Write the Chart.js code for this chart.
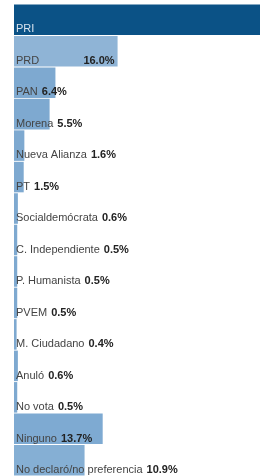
<!DOCTYPE html>
<html><head><meta charset="utf-8">
<script src="https://cdn.jsdelivr.net/npm/chart.js@4"></script>
<style>html,body{margin:0;padding:0;background:#fff;}#wrap{width:260px;height:476px;position:relative;}</style>
</head><body><div id="wrap"><canvas id="c"></canvas></div>
<script>
const categories = ["PRI","PRD","PAN","Morena","Nueva Alianza","PT","Socialdemócrata","C. Independiente","P. Humanista","PVEM","M. Ciudadano","Anuló","No vota","Ninguno","No declaró/no preferencia"];
const values = [40.8,16.0,6.4,5.5,1.6,1.5,0.6,0.5,0.5,0.5,0.4,0.6,0.5,13.7,10.9];
const barColors = ["#0b5286","#8fb4d6","#7ea9d0","#7ea9d0","#7ea9d0","#7ea9d0","#7ea9d0","#7ea9d0","#7ea9d0","#7ea9d0","#7ea9d0","#7ea9d0","#7ea9d0","#7eaad2","#85afd4"];

const FONT = '"Liberation Sans", Arial, sans-serif';
const FS = '11px ';
const labelPlugin = {
  id:'rowLabels',
  afterDatasetsDraw(chart){
    const ctx = chart.ctx;
    const meta = chart.getDatasetMeta(0);
    const area = chart.chartArea;
    ctx.save();
    ctx.textBaseline = 'alphabetic';
    meta.data.forEach((bar,i)=>{
      const name = categories[i];
      const val = values[i].toFixed(1) + '%';
      const bottom = bar.y + bar.height/2;
      const y = bottom - 2.5;
      const x0 = area.left + 2;
      ctx.font = FS + FONT;
      const nw = ctx.measureText(name).width;
      ctx.font = 'bold ' + FS + FONT;
      const vw = ctx.measureText(val).width;
      const barW = bar.x - area.left;
      ctx.font = FS + FONT;
      ctx.fillStyle = i === 0 ? '#d8e3ee' : '#444';
      ctx.textAlign = 'left';
      ctx.fillText(name, x0, y);
      if (bar.x > area.right) return;
      ctx.font = 'bold ' + FS + FONT;
      ctx.fillStyle = '#222';
      if (nw + vw + 30 < barW) {
        ctx.textAlign = 'right';
        ctx.fillText(val, bar.x - 3, y);
      } else {
        ctx.textAlign = 'left';
        ctx.fillText(val, x0 + nw + 4, y);
      }
    });
    ctx.restore();
  }
};

new Chart(document.getElementById('c'), {
  type:'bar',
  data:{labels:categories, datasets:[{data:values, backgroundColor:barColors, borderWidth:0, barPercentage:0.97, categoryPercentage:1}]},
  options:{
    indexAxis:'y', responsive:true, maintainAspectRatio:false, animation:false,
    layout:{padding:{left:14,top:4,right:0,bottom:0}},
    plugins:{legend:{display:false},tooltip:{enabled:false}},
    scales:{
      x:{display:false,min:0,max:38},
      y:{display:false}
    }
  },
  plugins:[labelPlugin]
});
</script></body></html>
